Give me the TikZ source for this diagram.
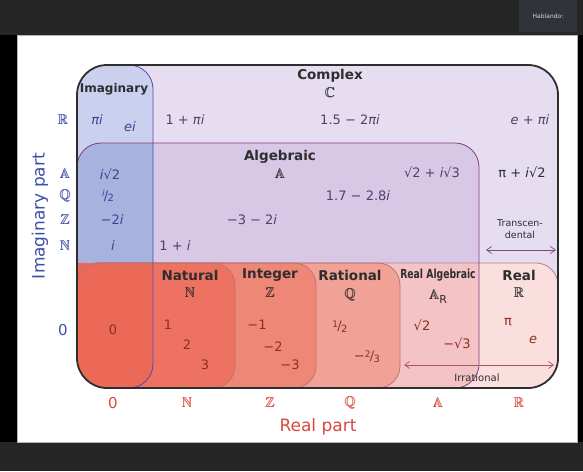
\documentclass[tikz,border=0pt]{standalone}
\usepackage{amssymb}
\usepackage{graphicx}
\usepackage{fontspec}
\setmainfont{DejaVu Sans}
\setsansfont{DejaVu Sans}
\usetikzlibrary{arrows.meta}
\definecolor{cbar}{HTML}{262626}
\definecolor{chabl}{HTML}{30343A}
\definecolor{ccpx}{HTML}{E6DEF0}
\definecolor{calg}{HTML}{D8C8E6}
\definecolor{cimg}{HTML}{CBD0EE}
\definecolor{cimgalg}{HTML}{A8B2DF}
\definecolor{creal}{HTML}{FBDEDE}
\definecolor{crealg}{HTML}{F4C3C6}
\definecolor{crat}{HTML}{F1A196}
\definecolor{cint}{HTML}{EF8777}
\definecolor{cnat}{HTML}{EE7262}
\definecolor{czero}{HTML}{EC6957}
\definecolor{caxisb}{HTML}{3C50A8}
\definecolor{caxisr}{HTML}{D9483C}
\definecolor{ctitle}{HTML}{2E2E2E}
\definecolor{cpur}{HTML}{4F4070}
\definecolor{cred}{HTML}{8C3020}
\definecolor{cblu}{HTML}{3A4690}
\newcommand{\slfrac}[2]{\raisebox{0.45ex}{\fontsize{9}{9}\selectfont #1}\kern-0.05em/\kern-0.05em\raisebox{-0.25ex}{\fontsize{10}{10}\selectfont #2}}
\newcommand{\bbb}[1]{\rlap{$\mathbb{#1}$}\kern0.5pt$\mathbb{#1}$}
\tikzset{
  every picture/.style={font=\sffamily},
  ttl/.style={font=\sffamily\bfseries\fontsize{13.5}{15}\selectfont, text=ctitle, inner sep=0pt},
  bbset/.style={font=\fontsize{14}{15}\selectfont, text=#1, inner sep=0pt},
  bbset/.default=ctitle,
  num/.style={font=\sffamily\fontsize{13}{15}\selectfont, text=#1, inner sep=0pt},
  num/.default=cpur,
  axtitle/.style={font=\sffamily\fontsize{17}{19}\selectfont, text=#1, inner sep=0pt},
  note/.style={font=\sffamily\fontsize{9.5}{12}\selectfont, text=ctitle, align=center, inner sep=0pt},
  dbl/.style={{Straight Barb[length=5pt,width=7pt]}-{Straight Barb[length=5pt,width=7pt]}, line width=0.7pt, draw=#1},
  rim/.style={draw=#1, line width=0.8pt},
}

\begin{document}
\begin{tikzpicture}[x=1pt, y=-1pt]
  \useasboundingbox (0,0) rectangle (583,471);
  % slide frame
  \fill[cbar] (0,0) rectangle (583,471);
  \fill[black] (0,35) rectangle (583,442);
  \fill[white, draw=gray!60] (17,35) rectangle (577,442);
  \fill[chabl] (519,0) rectangle (577,32);
  \node[font=\sffamily\fontsize{6}{7}\selectfont, text=white!85!black] (hab) at (548,16) {Hablando:};

  % regions
  \begin{scope}
    \clip[rounded corners=30] (77,65) rectangle (558,388);
    \fill[ccpx] (77,65) rectangle (558,388);
    \fill[calg, rounded corners=24] (77,143) rectangle (479,388);
    \fill[cimg, rounded corners=24] (77,65) rectangle (153,388);
    \begin{scope}
      \clip[rounded corners=24] (77,143) rectangle (479,388);
      \fill[cimgalg, rounded corners=24] (77,65) rectangle (153,388);
    \end{scope}
    \fill[creal, rounded corners=22] (77,263) rectangle (558,388);
    \begin{scope}
      \clip[rounded corners=24] (77,143) rectangle (479,388);
      \fill[crealg, rounded corners=22] (77,263) rectangle (558,388);
    \end{scope}
    \fill[crat, rounded corners=22] (77,263) rectangle (400,388);
    \fill[cint, rounded corners=22] (77,263) rectangle (316,388);
    \fill[cnat, rounded corners=22] (77,263) rectangle (235,388);
    \begin{scope}
      \clip[rounded corners=24] (77,65) rectangle (153,388);
      \fill[czero] (77,263) rectangle (153,388);
    \end{scope}
    \draw[rim=red!45!black!50, rounded corners=22] (77,263) rectangle (558,388);
    \draw[rim=red!55!black!55, rounded corners=22] (77,263) rectangle (400,388);
    \draw[rim=red!55!black!55, rounded corners=22] (77,263) rectangle (316,388);
    \draw[rim=red!55!black!55, rounded corners=22] (77,263) rectangle (235,388);
    \draw[rim=violet!50!gray, rounded corners=24] (77,143) rectangle (479,388);
    \draw[rim=blue!40!gray, rounded corners=24] (77,65) rectangle (153,388);
  \end{scope}
  \draw[ctitle, line width=1.8pt, rounded corners=30] (77,65) rectangle (558,388);

  % complex row
  \node[ttl] (cpx) at (330,76) {Complex};
  \node[bbset] (cpxs) at (330,93) {\bbb{C}};
  \node[ttl, font=\sffamily\bfseries\fontsize{12}{14}\selectfont] (img) at (114,89) {Imaginary};
  \node[num=cblu] (pii) at (97,120) {\textit{πi}};
  \node[num=cblu] (ei) at (130,127) {\textit{ei}};
  \node[num] (c1) at (185,120) {1 + \textit{πi}};
  \node[num] (c2) at (350,120) {1.5 − 2\textit{πi}};
  \node[num] (c3) at (530,120) {\textit{e} + \textit{πi}};

  % algebraic rows
  \node[ttl] (alg) at (280,157) {Algebraic};
  \node[bbset] (algs) at (280,174) {\bbb{A}};
  \node[num=cblu] (ia) at (110,174) {\textit{i}√2};
  \node[num] (a1) at (432,172) {√2 + \textit{i}√3};
  \node[num=ctitle] (t1) at (522,172) {π + \textit{i}√2};
  \node[num=cblu] (iq) at (108,196) {\slfrac{\textit{i}}{2}};
  \node[num] (a2) at (358,196) {1.7 − 2.8\textit{i}};
  \node[num=cblu] (iz) at (112,220) {−2\textit{i}};
  \node[num] (a3) at (252,220) {−3 − 2\textit{i}};
  \node[num=cblu] (in) at (113,246) {\textit{i}};
  \node[num] (a4) at (175,246) {1 + \textit{i}};
  \node[note] (trans) at (520,229) {Transcen-\\dental};
  \coordinate (trl) at (486,250);
  \coordinate (trr) at (556,250);
  \draw[dbl=violet!45!gray] (trl) -- (trr);

  % real row
  \node[num=cred] (zero) at (113,330) {0};
  \node[ttl] (nat) at (190,275) {Natural};
  \node[bbset] (nats) at (190,293) {\bbb{N}};
  \node[num=cred] (n1) at (168,325) {1};
  \node[num=cred] (n2) at (187,345) {2};
  \node[num=cred] (n3) at (205,365) {3};
  \node[ttl] (intg) at (270,275) {Integer};
  \node[bbset] (intgs) at (270,293) {\bbb{Z}};
  \node[num=cred] (z1) at (257,325) {−1};
  \node[num=cred] (z2) at (273,347) {−2};
  \node[num=cred] (z3) at (290,365) {−3};
  \node[ttl] (rat) at (350,275) {Rational};
  \node[bbset] (rats) at (350,295) {\bbb{Q}};
  \node[num=cred] (q1) at (340,327) {\slfrac{1}{2}};
  \node[num=cred] (q2) at (367,357) {−\slfrac{2}{3}};
  \node[ttl, font=\sffamily\bfseries\fontsize{12.5}{15}\selectfont] (ralg) at (438,275) {\scalebox{0.74}[1]{Real Algebraic}};
  \node[bbset] (ralgs) at (438,297) {\bbb{A}\raisebox{-0.5ex}{\sffamily\fontsize{11}{11}\selectfont R}};
  \node[num=cred] (r1) at (422,325) {√2};
  \node[num=cred] (r2) at (457,343) {−√3};
  \node[ttl] (real) at (519,275) {Real};
  \node[bbset] (reals) at (519,293) {\bbb{R}};
  \node[num=cred] (p1) at (508,322) {π};
  \node[num=cred] (p2) at (533,340) {\textit{e}};
  \coordinate (irl) at (404,365);
  \coordinate (irr) at (554,365);
  \draw[dbl=red!30!gray] (irl) -- (irr);
  \node[note, font=\sffamily\fontsize{10}{12}\selectfont] (irrt) at (477,378) {Irrational};

  % axes
  \node[axtitle=caxisb, rotate=90] (yax) at (40,216) {Imaginary part};
  \node[bbset=caxisb] (yr) at (63,120) {\bbb{R}};
  \node[bbset=caxisb] (ya) at (65,174) {\bbb{A}};
  \node[bbset=caxisb] (yq) at (65,196) {\bbb{Q}};
  \node[bbset=caxisb] (yz) at (65,220) {\bbb{Z}};
  \node[bbset=caxisb] (yn) at (65,246) {\bbb{N}};
  \node[num=caxisb, font=\sffamily\fontsize{15}{17}\selectfont] (y0) at (63,330) {0};
  \node[num=caxisr, font=\sffamily\fontsize{15}{17}\selectfont] (x0) at (113,403) {0};
  \node[bbset=caxisr] (xn) at (187,403) {\bbb{N}};
  \node[bbset=caxisr] (xz) at (270,403) {\bbb{Z}};
  \node[bbset=caxisr] (xq) at (350,403) {\bbb{Q}};
  \node[bbset=caxisr] (xa) at (438,403) {\bbb{A}};
  \node[bbset=caxisr] (xr) at (519,403) {\bbb{R}};
  \node[axtitle=caxisr] (xax) at (318,427) {Real part};
\end{tikzpicture}
\end{document}
